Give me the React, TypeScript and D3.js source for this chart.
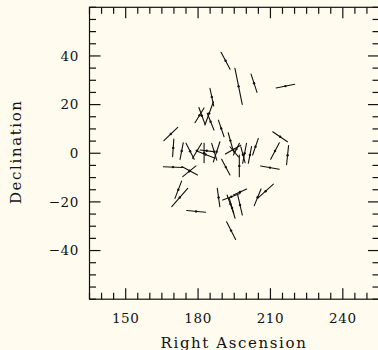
import React from 'react';
import * as d3 from 'd3';

// Polarization-like vectors: centre RA (deg), centre Dec (deg), length (deg), position angle (deg from north)
const raValues = [191.4, 196.8, 203.2, 216.2, 185.7, 181.6, 180.6, 184.6, 185.2, 189.6, 168.7, 169.7, 173.2, 176.7, 179.6, 183.1, 183.6, 182.5, 186.7, 187.7, 191.5, 193.4, 194.5, 195.0, 195.9, 197.1, 198.6, 199.3, 201.5, 203.8, 214.0, 211.9, 217.1, 209.8, 169.6, 176.5, 176.4, 171.8, 172.4, 179.2, 188.5, 193.8, 197.4, 194.1, 197.4, 193.4, 204.7, 208.0, 193.7];
const decValues = [38.0, 27.5, 28.8, 27.6, 23.1, 15.4, 15.6, 16.4, 13.0, 10.2, 7.9, 2.2, 0.9, 0.8, 1.0, -0.5, 1.0, 0.1, 0.6, 0.6, -5.7, 5.2, 1.5, 0.6, 1.7, -5.2, -0.6, 0.0, -0.7, 2.7, 6.8, 0.9, -0.8, -5.9, -5.7, -7.2, -7.4, -15.0, -18.2, -23.9, -18.2, -17.9, -15.9, -22.5, -21.3, -20.9, -18.1, -15.6, -31.8];
const lengths = [7.9, 15.1, 7.9, 7.8, 7.4, 7.3, 7.1, 10.2, 7.4, 7.2, 7.9, 7.2, 7.0, 7.4, 7.2, 8.4, 5.5, 7.9, 7.2, 8.7, 7.3, 6.7, 7.3, 5.4, 5.4, 8.9, 6.8, 8.4, 7.0, 7.2, 7.3, 7.7, 7.9, 7.8, 7.9, 7.3, 7.0, 7.6, 10.0, 7.8, 7.6, 7.6, 6.0, 8.8, 8.4, 8.0, 7.4, 8.6, 8.2];
const angles = [-28, -11.5, -18, 79, -12, -20, 31.5, 20, -22, -19, 46, 4, 11, -27, 31, -68, -83, 0, -17, 18, -28, -15.5, 60, -40, 27, 0, -15, 11, 11, 19, -56, 27.5, 6, -80, -88, -62, 51, 21, 41, -85, -8, 69, 66, -16, -13, -20, 22, 48, -27];

const xTicks = [150, 180, 210, 240];
const yTicks = [-40, -20, 0, 20, 40];
const xDomain = [135, 255];
const yDomain = [-60, 60];
const xTitle = 'Right Ascension';
const yTitle = 'Declination';

export default function App() {
  const W = 378, H = 350;
  const left = 89.5, right = 379, top = 7.3, bottom = 299.2;
  const x = d3.scaleLinear().domain(xDomain).range([left, right]);
  const y = d3.scaleLinear().domain(yDomain).range([bottom, top]);
  const xMinor = d3.range(xDomain[0], xDomain[1] + 0.1, 5);
  const yMinor = d3.range(yDomain[0], yDomain[1] + 0.1, 5);
  const k = y(0) - y(1);
  const major = 11, minor = 6.5;
  const font = "'DejaVu Serif', serif";
  const ink = '#111';
  const fmt = (v: number) => (v < 0 ? '\u2212' + Math.abs(v) : String(v));

  const segs = raValues.map((ra, i) => {
    const cx = x(ra), cy = y(decValues[i]);
    const a = (angles[i] * Math.PI) / 180;
    const h = (lengths[i] / 2) * k;
    const dx = h * Math.sin(a), dy = -h * Math.cos(a);
    return { cx, cy, x1: cx - dx, y1: cy - dy, x2: cx + dx, y2: cy + dy };
  });

  return (
    <svg width={W} height={H} style={{ position: 'fixed', left: 0, top: 0 }}>
      <rect x={0} y={0} width={W} height={H} fill="#fffcef" />
      <g stroke={ink} strokeWidth={1.2} fill="none">
        <rect x={left} y={top} width={right - left} height={bottom - top} />
        {xMinor.map((v) => {
          const len = xTicks.includes(v) ? major : minor;
          return (
            <g key={'x' + v}>
              <line x1={x(v)} x2={x(v)} y1={bottom} y2={bottom - len} />
              <line x1={x(v)} x2={x(v)} y1={top} y2={top + len} />
            </g>
          );
        })}
        {yMinor.map((v) => {
          const len = yTicks.includes(v) ? major : minor;
          return (
            <g key={'y' + v}>
              <line x1={left} x2={left + len} y1={y(v)} y2={y(v)} />
              <line x1={right} x2={right - len} y1={y(v)} y2={y(v)} />
            </g>
          );
        })}
      </g>
      <g stroke={ink} strokeWidth={1.1} strokeLinecap="round">
        {segs.map((s, i) => (
          <line key={i} x1={s.x1} y1={s.y1} x2={s.x2} y2={s.y2} />
        ))}
      </g>
      <g fill={ink}>
        {segs.map((s, i) => (
          <circle key={i} cx={s.cx} cy={s.cy} r={1.2} />
        ))}
      </g>
      <g fontFamily={font} fontSize={13.5} fill={ink} letterSpacing={0.6}>
        {xTicks.map((v) => (
          <text key={v} x={x(v)} y={323} textAnchor="middle">{fmt(v)}</text>
        ))}
        {yTicks.map((v) => (
          <text key={v} x={79} y={y(v) + 4.8} textAnchor="end">{fmt(v)}</text>
        ))}
      </g>
      <g fontFamily={font} fontSize={15} fill={ink} letterSpacing={1.6}>
        <text x={234} y={347.5} textAnchor="middle">{xTitle}</text>
        <text transform={`translate(20.5, 151.7) rotate(-90)`} textAnchor="middle">{yTitle}</text>
      </g>
    </svg>
  );
}
